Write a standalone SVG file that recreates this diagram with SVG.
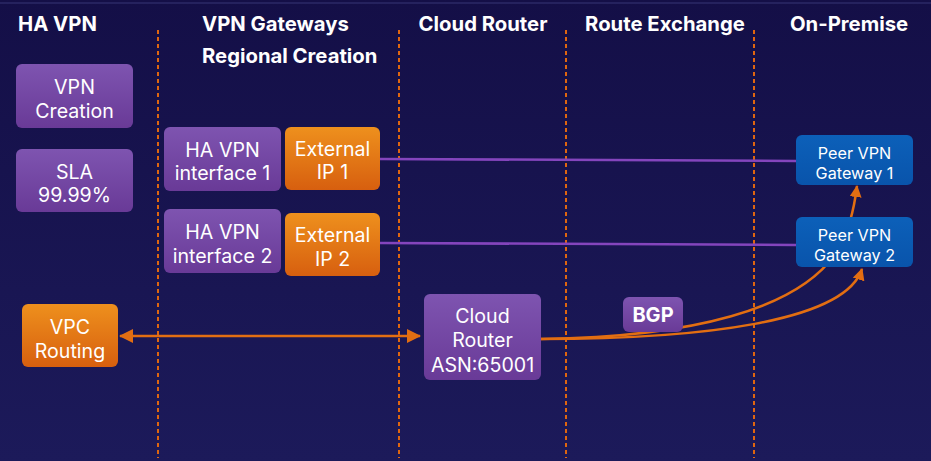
<svg xmlns="http://www.w3.org/2000/svg" width="931" height="461" viewBox="0 0 931 461">
<defs>
<linearGradient id="bg" x1="0" y1="0" x2="0" y2="1"><stop offset="0" stop-color="#140f47"/><stop offset="1" stop-color="#1c1a5a"/></linearGradient>
<linearGradient id="gp" x1="0" y1="0" x2="0" y2="1"><stop offset="0" stop-color="#7e54b0"/><stop offset="1" stop-color="#693a97"/></linearGradient>
<linearGradient id="go" x1="0" y1="0" x2="0" y2="1"><stop offset="0" stop-color="#ee901d"/><stop offset="1" stop-color="#d75f0f"/></linearGradient>
<linearGradient id="gb" x1="0" y1="0" x2="0" y2="1"><stop offset="0" stop-color="#0c60b9"/><stop offset="1" stop-color="#0954ab"/></linearGradient>
<marker id="ah" viewBox="0 0 12 12" refX="11" refY="6" markerWidth="12" markerHeight="12" markerUnits="userSpaceOnUse" orient="auto-start-reverse"><path d="M0,0 L12,6 L0,12 Z" fill="#e26e12"/></marker>
<marker id="ah2" viewBox="0 0 14 14" refX="13" refY="7" markerWidth="14" markerHeight="14" markerUnits="userSpaceOnUse" orient="auto-start-reverse"><path d="M0,0 L14,7 L0,14 Z" fill="#e26e12"/></marker>
</defs>
<style>
.hdr{font-family:Inter,"Liberation Sans",sans-serif;font-weight:700;font-size:20.3px;fill:#ffffff}
.t{font-family:Inter,"Liberation Sans",sans-serif;font-size:19.6px;fill:#ffffff;text-anchor:middle}
.ts{font-family:Inter,"Liberation Sans",sans-serif;font-size:16.2px;fill:#ffffff;text-anchor:middle}
.tb{font-family:Inter,"Liberation Sans",sans-serif;font-weight:700;font-size:20px;fill:#ffffff;text-anchor:middle}
.p{fill:url(#gp)}
.o{fill:url(#go)}
.b{fill:url(#gb)}
.sep{stroke:#e0660f;stroke-width:2;stroke-dasharray:4 3;fill:none}
.pl{stroke:#8445bd;stroke-width:2.5;fill:none}
.ol{stroke:#e26e12;stroke-width:2.5;fill:none}
</style>
<rect x="0" y="0" width="931" height="461" fill="url(#bg)"/>
<line x1="0" y1="3" x2="931" y2="3" stroke="#2b2a66" stroke-width="1.5"/>
<g id="headers">
<text class="hdr" x="18" y="31">HA VPN</text>
<text class="hdr" x="202" y="31">VPN Gateways</text>
<text class="hdr" x="202" y="63">Regional Creation</text>
<text class="hdr" x="483" y="31" text-anchor="middle">Cloud Router</text>
<text class="hdr" x="665" y="31" text-anchor="middle">Route Exchange</text>
<text class="hdr" x="849" y="31" text-anchor="middle">On-Premise</text>
</g>
<g id="separators">
<line class="sep" x1="158" y1="30" x2="158" y2="458"/>
<line class="sep" x1="399" y1="30" x2="399" y2="458"/>
<line class="sep" x1="566" y1="30" x2="566" y2="458"/>
<line class="sep" x1="754" y1="30" x2="754" y2="458"/>
</g>
<g id="connectors">
<path class="pl" d="M380,159 L796,161"/>
<path class="pl" d="M380,243 L796,245"/>
<path class="ol" d="M120,336 L420,336" marker-start="url(#ah2)" marker-end="url(#ah2)"/>
<path class="ol" d="M541,339 C690,337 800,310 838,250 Q852,226 857,186" marker-end="url(#ah)"/>
<path class="ol" d="M541,339 C700,339 845,322 862,269" marker-end="url(#ah)"/>
</g>
<g id="vpn-creation"><rect class="p" x="16" y="64" width="117" height="64" rx="6"/><text class="t" x="74.5" y="94">VPN</text><text class="t" x="74.5" y="118">Creation</text></g>
<g id="sla"><rect class="p" x="16" y="149" width="117" height="63" rx="6"/><text class="t" x="74.5" y="179">SLA</text><text class="t" x="74.5" y="202">99.99%</text></g>
<g id="ha-if1"><rect class="p" x="164" y="127" width="117" height="64" rx="6"/><text class="t" x="222.5" y="157">HA VPN</text><text class="t" x="222.5" y="180">interface 1</text></g>
<g id="ext-ip1"><rect class="o" x="285" y="127" width="95" height="63" rx="6"/><text class="t" x="332.5" y="156">External</text><text class="t" x="332.5" y="179">IP 1</text></g>
<g id="ha-if2"><rect class="p" x="164" y="209" width="117" height="64" rx="6"/><text class="t" x="222.5" y="239">HA VPN</text><text class="t" x="222.5" y="263">interface 2</text></g>
<g id="ext-ip2"><rect class="o" x="285" y="213" width="95" height="63" rx="6"/><text class="t" x="332.5" y="242">External</text><text class="t" x="332.5" y="266">IP 2</text></g>
<g id="vpc-routing"><rect class="o" x="22" y="304" width="96" height="63" rx="6"/><text class="t" x="70" y="334">VPC</text><text class="t" x="70" y="358">Routing</text></g>
<g id="cloud-router"><rect class="p" x="424" y="294" width="117" height="86" rx="6"/><text class="t" x="482.5" y="323">Cloud</text><text class="t" x="482.5" y="347">Router</text><text class="t" x="482.5" y="372">ASN:65001</text></g>
<g id="bgp"><rect class="p" x="623" y="297" width="60" height="35" rx="6"/><text class="tb" x="653" y="322">BGP</text></g>
<g id="peer1"><rect class="b" x="796" y="135" width="117" height="50" rx="6"/><text class="ts" x="854.5" y="159">Peer VPN</text><text class="ts" x="854.5" y="179">Gateway 1</text></g>
<g id="peer2"><rect class="b" x="796" y="217" width="117" height="50" rx="6"/><text class="ts" x="854.5" y="241">Peer VPN</text><text class="ts" x="854.5" y="261">Gateway 2</text></g>
</svg>
